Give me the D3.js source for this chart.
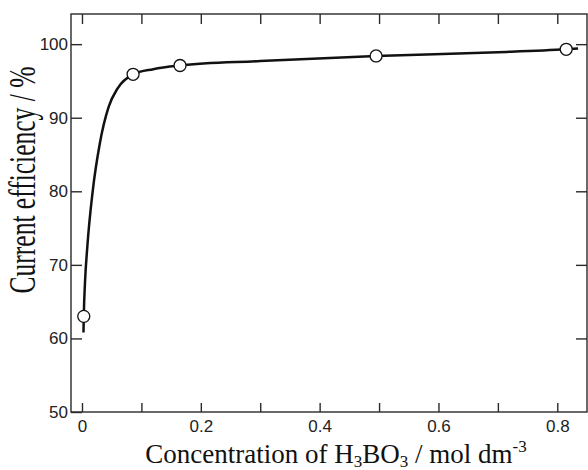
<!DOCTYPE html>
<html>
<head>
<meta charset="utf-8">
<script src="https://cdn.jsdelivr.net/npm/d3@7/dist/d3.min.js"></script>
<style>
  html, body { margin: 0; padding: 0; background: #fff; }
  svg { display: block; }
</style>
</head>
<body>
<svg id="chart" width="588" height="470"></svg>
<script>
// Measured current efficiency vs. boric acid concentration
const concentration = [0.003, 0.086, 0.165, 0.495, 0.815];
const efficiency    = [63.0, 95.9, 97.1, 98.4, 99.3];

// Hand-drawn fit curve through the measurements
const fitConc = [0.0025, 0.003, 0.005, 0.009, 0.018, 0.030, 0.045, 0.060, 0.086, 0.120, 0.165, 0.300, 0.495, 0.700, 0.815, 0.835];
const fitEff  = [60.8,   63.0,  67.5,  72.5,  80.0,  86.5,  91.5,  94.0,  95.9,  96.6,  97.1,  97.7,  98.4,  98.9,  99.3,  99.4];

const xTicksMajor = [0, 0.2, 0.4, 0.6, 0.8];
const xTicksAll   = [0, 0.1, 0.2, 0.3, 0.4, 0.5, 0.6, 0.7, 0.8];
const yTicks      = [50, 60, 70, 80, 90, 100];
const yTicksRight = [60, 70, 80, 90, 100];

const svg = d3.select("#chart");
const plotLeft = 71, plotRight = 587, plotTop = 14, plotBottom = 412;

const x = d3.scaleLinear().domain([-0.0185, 0.85]).range([plotLeft, plotRight]);
const y = d3.scaleLinear().domain([50, 104.1]).range([plotBottom, plotTop]);

const axisColor = "#2a2a2a";
const tickFont = "'Liberation Sans', Arial, sans-serif";
const titleFont = "'Liberation Serif', 'Times New Roman', serif";

// Frame
svg.append("rect")
  .attr("x", plotLeft).attr("y", plotTop)
  .attr("width", plotRight - plotLeft).attr("height", plotBottom - plotTop)
  .attr("fill", "none").attr("stroke", axisColor).attr("stroke-width", 1.4);

// Bottom axis: inward ticks, labels every 0.2
const bottomAxis = svg.append("g").attr("transform", `translate(0,${plotBottom})`)
  .call(d3.axisBottom(x).tickValues(xTicksAll).tickSizeInner(-9).tickSizeOuter(0)
    .tickPadding(8)
    .tickFormat(d => xTicksMajor.some(v => Math.abs(v - d) < 1e-9) ? (d === 0 ? "0" : d3.format(".1f")(d)) : ""));
bottomAxis.select(".domain").remove();
bottomAxis.selectAll("line").attr("stroke", axisColor).attr("stroke-width", 1.4);
bottomAxis.selectAll("text").attr("font-family", tickFont).attr("font-size", 17).attr("fill", "#222");

// Top axis: inward ticks only
const topAxis = svg.append("g").attr("transform", `translate(0,${plotTop})`)
  .call(d3.axisTop(x).tickValues(xTicksAll).tickSizeInner(-10).tickSizeOuter(0).tickFormat(""));
topAxis.select(".domain").remove();
topAxis.selectAll("line").attr("stroke", axisColor).attr("stroke-width", 1.4);

// Left axis
const leftAxis = svg.append("g").attr("transform", `translate(${plotLeft},0)`)
  .call(d3.axisLeft(y).tickValues(yTicks).tickSizeInner(-11).tickSizeOuter(0).tickPadding(3)
    .tickFormat(d3.format("d")));
leftAxis.select(".domain").remove();
leftAxis.selectAll("line").attr("stroke", axisColor).attr("stroke-width", 1.4);
leftAxis.selectAll("text").attr("font-family", tickFont).attr("font-size", 17).attr("fill", "#222");

// Right axis: inward ticks only
const rightAxis = svg.append("g").attr("transform", `translate(${plotRight},0)`)
  .call(d3.axisRight(y).tickValues(yTicksRight).tickSizeInner(-11).tickSizeOuter(0).tickFormat(""));
rightAxis.select(".domain").remove();
rightAxis.selectAll("line").attr("stroke", axisColor).attr("stroke-width", 1.4);

// Fit curve
const fit = fitConc.map((c, i) => [c, fitEff[i]]);
svg.append("path")
  .datum(fit)
  .attr("fill", "none")
  .attr("stroke", "#111")
  .attr("stroke-width", 2.5)
  .attr("stroke-linecap", "butt")
  .attr("d", d3.line().x(d => x(d[0])).y(d => y(d[1])).curve(d3.curveMonotoneX));

// Data points
svg.append("g").selectAll("circle")
  .data(concentration.map((c, i) => [c, efficiency[i]]))
  .join("circle")
  .attr("cx", d => x(d[0]))
  .attr("cy", d => y(d[1]))
  .attr("r", 6)
  .attr("fill", "#fff")
  .attr("stroke", "#111")
  .attr("stroke-width", 1.3);

// Axis titles
const xTitle = svg.append("text")
  .attr("x", 336).attr("y", 463)
  .attr("text-anchor", "middle")
  .attr("font-family", titleFont).attr("font-size", 27).attr("fill", "#111");
xTitle.append("tspan").text("Concentration of H");
xTitle.append("tspan").attr("font-size", 17).attr("dy", 4).text("3");
xTitle.append("tspan").attr("dy", -4).text("BO");
xTitle.append("tspan").attr("font-size", 17).attr("dy", 4).text("3");
xTitle.append("tspan").attr("dy", -4).text(" / mol dm");
xTitle.append("tspan").attr("font-size", 17).attr("dy", -11).text("-3");

// Y title: tall, narrow setting
svg.append("text")
  .attr("transform", "translate(35,180) rotate(-90) scale(0.69,1)")
  .attr("text-anchor", "middle")
  .attr("font-family", titleFont).attr("font-size", 37).attr("fill", "#111")
  .text("Current efficiency / %");
</script>
</body>
</html>
